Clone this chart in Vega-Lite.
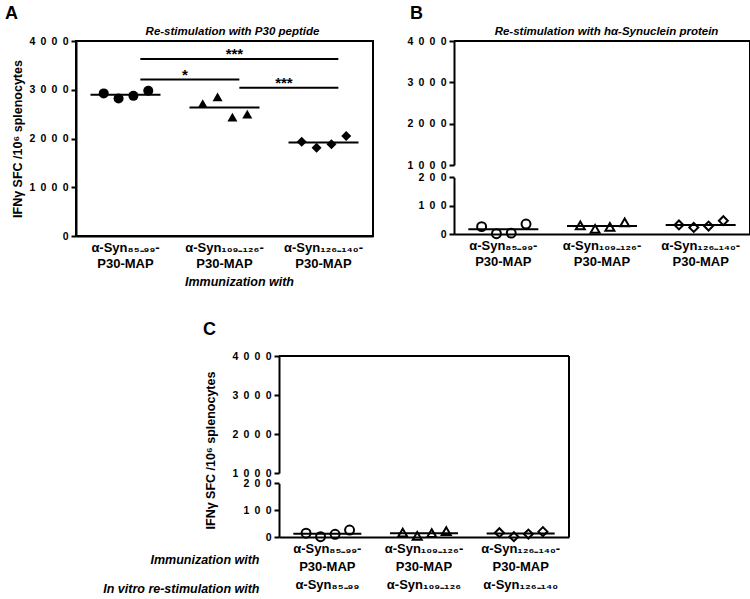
{
  "$schema": "https://vega.github.io/schema/vega-lite/v6.json",
  "background": "white",
  "padding": {"left": 4, "top": 4, "right": 2, "bottom": 2},
  "config": {
    "font": "Liberation Sans",
    "view": {"stroke": null},
    "axis": {"grid": false, "domainColor": "black", "domainWidth": 2, "tickColor": "black", "tickWidth": 2, "labelColor": "black", "titleColor": "black", "labelFontWeight": "bold", "titleFontWeight": "bold", "labelFont": "Liberation Sans", "titleFont": "Liberation Sans"},
    "axisX": {"ticks": false, "labelAngle": 0, "labelFontSize": 13, "labelPadding": 5, "labelLineHeight": 16, "titleFontSize": 12.5, "titleFontStyle": "italic", "titlePadding": 5, "labelExpr": "split(datum.label, '|')"},
    "axisY": {"tickSize": 5, "labelFontSize": 10.5, "labelPadding": 3, "format": "d", "labelExpr": "join(split(datum.label, ''), '\u2002')", "titleFontSize": 12.5, "titlePadding": 8},
    "title": {"color": "black", "font": "Liberation Sans", "fontSize": 18, "fontWeight": "bold", "anchor": "start", "frame": "group"},
    "point": {"opacity": 1, "color": "black"}
  },
  "datasets": {
    "ptsA": [
      {"group": "α-Syn₈₅₋₉₉-|P30-MAP", "rep": 1, "value": 2925},
      {"group": "α-Syn₈₅₋₉₉-|P30-MAP", "rep": 2, "value": 2820},
      {"group": "α-Syn₈₅₋₉₉-|P30-MAP", "rep": 3, "value": 2875},
      {"group": "α-Syn₈₅₋₉₉-|P30-MAP", "rep": 4, "value": 2980},
      {"group": "α-Syn₁₀₉₋₁₂₆-|P30-MAP", "rep": 1, "value": 2715},
      {"group": "α-Syn₁₀₉₋₁₂₆-|P30-MAP", "rep": 2, "value": 2855},
      {"group": "α-Syn₁₀₉₋₁₂₆-|P30-MAP", "rep": 3, "value": 2440},
      {"group": "α-Syn₁₀₉₋₁₂₆-|P30-MAP", "rep": 4, "value": 2500},
      {"group": "α-Syn₁₂₆₋₁₄₀-|P30-MAP", "rep": 1, "value": 1935},
      {"group": "α-Syn₁₂₆₋₁₄₀-|P30-MAP", "rep": 2, "value": 1810},
      {"group": "α-Syn₁₂₆₋₁₄₀-|P30-MAP", "rep": 3, "value": 1880},
      {"group": "α-Syn₁₂₆₋₁₄₀-|P30-MAP", "rep": 4, "value": 2050}
    ],
    "medA": [
      {"group": "α-Syn₈₅₋₉₉-|P30-MAP", "value": 2900},
      {"group": "α-Syn₁₀₉₋₁₂₆-|P30-MAP", "value": 2635},
      {"group": "α-Syn₁₂₆₋₁₄₀-|P30-MAP", "value": 1920}
    ],
    "sigA": [
      {"from": "α-Syn₈₅₋₉₉-|P30-MAP", "to": "α-Syn₁₂₆₋₁₄₀-|P30-MAP", "value": 3630, "label": "***"},
      {"from": "α-Syn₈₅₋₉₉-|P30-MAP", "to": "α-Syn₁₀₉₋₁₂₆-|P30-MAP", "value": 3210, "label": "*"},
      {"from": "α-Syn₁₀₉₋₁₂₆-|P30-MAP", "to": "α-Syn₁₂₆₋₁₄₀-|P30-MAP", "value": 3040, "label": "***"}
    ],
    "ptsB": [
      {"group": "α-Syn₈₅₋₉₉-|P30-MAP", "rep": 1, "value": 26},
      {"group": "α-Syn₈₅₋₉₉-|P30-MAP", "rep": 2, "value": 1},
      {"group": "α-Syn₈₅₋₉₉-|P30-MAP", "rep": 3, "value": 3},
      {"group": "α-Syn₈₅₋₉₉-|P30-MAP", "rep": 4, "value": 35},
      {"group": "α-Syn₁₀₉₋₁₂₆-|P30-MAP", "rep": 1, "value": 30},
      {"group": "α-Syn₁₀₉₋₁₂₆-|P30-MAP", "rep": 2, "value": 18},
      {"group": "α-Syn₁₀₉₋₁₂₆-|P30-MAP", "rep": 3, "value": 25},
      {"group": "α-Syn₁₀₉₋₁₂₆-|P30-MAP", "rep": 4, "value": 41},
      {"group": "α-Syn₁₂₆₋₁₄₀-|P30-MAP", "rep": 1, "value": 32},
      {"group": "α-Syn₁₂₆₋₁₄₀-|P30-MAP", "rep": 2, "value": 23},
      {"group": "α-Syn₁₂₆₋₁₄₀-|P30-MAP", "rep": 3, "value": 28},
      {"group": "α-Syn₁₂₆₋₁₄₀-|P30-MAP", "rep": 4, "value": 47}
    ],
    "medB": [
      {"group": "α-Syn₈₅₋₉₉-|P30-MAP", "value": 17},
      {"group": "α-Syn₁₀₉₋₁₂₆-|P30-MAP", "value": 28},
      {"group": "α-Syn₁₂₆₋₁₄₀-|P30-MAP", "value": 32}
    ],
    "ptsC": [
      {"group": "α-Syn₈₅₋₉₉-|P30-MAP|α-Syn₈₅₋₉₉", "rep": 1, "value": 14},
      {"group": "α-Syn₈₅₋₉₉-|P30-MAP|α-Syn₈₅₋₉₉", "rep": 2, "value": 1},
      {"group": "α-Syn₈₅₋₉₉-|P30-MAP|α-Syn₈₅₋₉₉", "rep": 3, "value": 10},
      {"group": "α-Syn₈₅₋₉₉-|P30-MAP|α-Syn₈₅₋₉₉", "rep": 4, "value": 26},
      {"group": "α-Syn₁₀₉₋₁₂₆-|P30-MAP|α-Syn₁₀₉₋₁₂₆", "rep": 1, "value": 16},
      {"group": "α-Syn₁₀₉₋₁₂₆-|P30-MAP|α-Syn₁₀₉₋₁₂₆", "rep": 2, "value": 4},
      {"group": "α-Syn₁₀₉₋₁₂₆-|P30-MAP|α-Syn₁₀₉₋₁₂₆", "rep": 3, "value": 14},
      {"group": "α-Syn₁₀₉₋₁₂₆-|P30-MAP|α-Syn₁₀₉₋₁₂₆", "rep": 4, "value": 22},
      {"group": "α-Syn₁₂₆₋₁₄₀-|P30-MAP|α-Syn₁₂₆₋₁₄₀", "rep": 1, "value": 16},
      {"group": "α-Syn₁₂₆₋₁₄₀-|P30-MAP|α-Syn₁₂₆₋₁₄₀", "rep": 2, "value": 1},
      {"group": "α-Syn₁₂₆₋₁₄₀-|P30-MAP|α-Syn₁₂₆₋₁₄₀", "rep": 3, "value": 11},
      {"group": "α-Syn₁₂₆₋₁₄₀-|P30-MAP|α-Syn₁₂₆₋₁₄₀", "rep": 4, "value": 20}
    ],
    "medC": [
      {"group": "α-Syn₈₅₋₉₉-|P30-MAP|α-Syn₈₅₋₉₉", "value": 12},
      {"group": "α-Syn₁₀₉₋₁₂₆-|P30-MAP|α-Syn₁₀₉₋₁₂₆", "value": 14},
      {"group": "α-Syn₁₂₆₋₁₄₀-|P30-MAP|α-Syn₁₂₆₋₁₄₀", "value": 13}
    ],
    "frameTop": [{"edge": "top", "value": 4000}],
    "frameSide": [{"edge": "right", "lo": 0, "hi": 4000}],
    "spacer": [{"edge": "none"}]
  },
  "concat": [
    {
      "hconcat": [
        {
          "width": 297,
          "height": 195,
          "view": {"stroke": "black", "strokeWidth": 2},
          "title": {"text": "A", "dx": -71, "offset": 2},
          "data": {"name": "ptsA"},
          "encoding": {
            "y": {"field": "value", "type": "quantitative", "scale": {"domain": [0, 4000], "nice": false}, "axis": {"values": [0, 1000, 2000, 3000, 4000], "title": "IFNγ SFC /10⁶ splenocytes", "titlePadding": 4}},
            "shape": {"field": "group", "type": "nominal", "scale": {"domain": ["α-Syn₈₅₋₉₉-|P30-MAP", "α-Syn₁₀₉₋₁₂₆-|P30-MAP", "α-Syn₁₂₆₋₁₄₀-|P30-MAP"], "range": ["circle", "triangle-up", "diamond"]}, "legend": null}
          },
          "layer": [
            {
              "transform": [{"filter": "datum.rep == 1"}],
              "mark": {"type": "point", "filled": true, "size": 100},
              "encoding": {"x": {"field": "group", "type": "nominal", "bandPosition": 0.28, "scale": {"type": "band", "domain": ["α-Syn₈₅₋₉₉-|P30-MAP", "α-Syn₁₀₉₋₁₂₆-|P30-MAP", "α-Syn₁₂₆₋₁₄₀-|P30-MAP"], "paddingInner": 0, "paddingOuter": 0}, "axis": {"title": "Immunization with", "titleX": 163}}}
            },
            {
              "transform": [{"filter": "datum.rep == 2"}],
              "mark": {"type": "point", "filled": true, "size": 100},
              "encoding": {"x": {"field": "group", "type": "nominal", "bandPosition": 0.43, "axis": null}}
            },
            {
              "transform": [{"filter": "datum.rep == 3"}],
              "mark": {"type": "point", "filled": true, "size": 100},
              "encoding": {"x": {"field": "group", "type": "nominal", "bandPosition": 0.58, "axis": null}}
            },
            {
              "transform": [{"filter": "datum.rep == 4"}],
              "mark": {"type": "point", "filled": true, "size": 100},
              "encoding": {"x": {"field": "group", "type": "nominal", "bandPosition": 0.73, "axis": null}}
            },
            {
              "data": {"name": "medA"},
              "mark": {"type": "tick", "size": 70, "thickness": 2, "color": "black", "opacity": 1},
              "encoding": {
                "x": {"field": "group", "type": "nominal", "axis": {"orient": "top", "labels": false, "ticks": false, "domain": false, "title": "Re-stimulation with P30 peptide", "titleFontSize": 11.5, "titlePadding": 5, "titleX": 156}},
                "shape": null
              }
            },
            {
              "data": {"name": "sigA"},
              "mark": {"type": "rule", "strokeWidth": 2, "color": "black"},
              "encoding": {
                "x": {"field": "from", "type": "nominal", "bandPosition": 0.65, "axis": null},
                "x2": {"field": "to", "bandPosition": 0.65},
                "shape": null
              }
            },
            {
              "data": {"name": "sigA"},
              "transform": [{"filter": "datum.value > 3500"}],
              "mark": {"type": "text", "fontSize": 15, "fontWeight": "bold", "baseline": "alphabetic", "color": "black"},
              "encoding": {
                "x": {"field": "from", "type": "nominal", "bandPosition": 1.6, "axis": null},
                "text": {"field": "label"},
                "shape": null
              }
            },
            {
              "data": {"name": "sigA"},
              "transform": [{"filter": "datum.value < 3500"}],
              "mark": {"type": "text", "fontSize": 15, "fontWeight": "bold", "baseline": "alphabetic", "color": "black"},
              "encoding": {
                "x": {"field": "from", "type": "nominal", "bandPosition": 1.1, "axis": null},
                "text": {"field": "label"},
                "shape": null
              }
            }
          ],
          "resolve": {"axis": {"x": "independent"}}
        },
        {
          "width": 296,
          "height": 193,
          "title": {"text": "B", "dx": -44, "offset": 2},
          "layer": [
            {
              "data": {"name": "frameTop"},
              "mark": {"type": "rule", "strokeWidth": 2, "color": "black"},
              "encoding": {
                "y": {"field": "value", "type": "quantitative", "scale": {"domain": [1000, 4000], "range": [124, 0], "nice": false, "zero": false}, "axis": {"orient": "left", "values": [1000, 2000, 3000, 4000], "title": null}}
              }
            },
            {
              "data": {"name": "ptsB"},
              "transform": [{"filter": "datum.rep == 1"}],
              "mark": {"type": "point", "filled": false, "size": 80, "strokeWidth": 2},
              "encoding": {
                "x": {"field": "group", "type": "nominal", "bandPosition": 0.28, "scale": {"type": "band", "domain": ["α-Syn₈₅₋₉₉-|P30-MAP", "α-Syn₁₀₉₋₁₂₆-|P30-MAP", "α-Syn₁₂₆₋₁₄₀-|P30-MAP"], "paddingInner": 0, "paddingOuter": 0}, "axis": {"title": null}},
                "y": {"field": "value", "type": "quantitative", "scale": {"domain": [0, 200], "range": [193, 136.3], "nice": false, "zero": false}, "axis": {"orient": "left", "values": [0, 100, 200], "title": null}},
                "shape": {"field": "group", "type": "nominal", "scale": {"domain": ["α-Syn₈₅₋₉₉-|P30-MAP", "α-Syn₁₀₉₋₁₂₆-|P30-MAP", "α-Syn₁₂₆₋₁₄₀-|P30-MAP"], "range": ["circle", "triangle-up", "diamond"]}, "legend": null}
              }
            },
            {
              "data": {"name": "ptsB"},
              "transform": [{"filter": "datum.rep == 2"}],
              "mark": {"type": "point", "filled": false, "size": 80, "strokeWidth": 2},
              "encoding": {
                "x": {"field": "group", "type": "nominal", "bandPosition": 0.43, "axis": null},
                "y": {"field": "value", "type": "quantitative", "scale": {"domain": [0, 200], "range": [193, 136.3], "nice": false, "zero": false}, "axis": null},
                "shape": {"field": "group", "type": "nominal", "legend": null}
              }
            },
            {
              "data": {"name": "ptsB"},
              "transform": [{"filter": "datum.rep == 3"}],
              "mark": {"type": "point", "filled": false, "size": 80, "strokeWidth": 2},
              "encoding": {
                "x": {"field": "group", "type": "nominal", "bandPosition": 0.58, "axis": null},
                "y": {"field": "value", "type": "quantitative", "scale": {"domain": [0, 200], "range": [193, 136.3], "nice": false, "zero": false}, "axis": null},
                "shape": {"field": "group", "type": "nominal", "legend": null}
              }
            },
            {
              "data": {"name": "ptsB"},
              "transform": [{"filter": "datum.rep == 4"}],
              "mark": {"type": "point", "filled": false, "size": 80, "strokeWidth": 2},
              "encoding": {
                "x": {"field": "group", "type": "nominal", "bandPosition": 0.73, "axis": null},
                "y": {"field": "value", "type": "quantitative", "scale": {"domain": [0, 200], "range": [193, 136.3], "nice": false, "zero": false}, "axis": null},
                "shape": {"field": "group", "type": "nominal", "legend": null}
              }
            },
            {
              "data": {"name": "medB"},
              "mark": {"type": "tick", "size": 70, "thickness": 2, "color": "black", "opacity": 1},
              "encoding": {
                "x": {"field": "group", "type": "nominal", "axis": {"orient": "top", "labels": false, "ticks": false, "domain": false, "title": "Re-stimulation with hα-Synuclein protein", "titleFontSize": 11.5, "titlePadding": 5, "titleX": 152}},
                "y": {"field": "value", "type": "quantitative", "scale": {"domain": [0, 200], "range": [193, 136.3], "nice": false, "zero": false}, "axis": null}
              }
            },
            {
              "data": {"name": "frameSide"},
              "mark": {"type": "rule", "strokeWidth": 2, "color": "black"},
              "encoding": {
                "x": {"datum": "α-Syn₁₂₆₋₁₄₀-|P30-MAP", "type": "nominal", "bandPosition": 1, "axis": null},
                "y": {"field": "lo", "type": "quantitative", "scale": {"domain": [0, 4000], "nice": false}, "axis": null},
                "y2": {"field": "hi"}
              }
            }
          ],
          "resolve": {"scale": {"y": "independent"}, "axis": {"y": "independent", "x": "independent"}}
        }
      ],
      "spacing": 32
    },
    {
      "hconcat": [
        {
          "width": 26,
          "height": 10,
          "data": {"name": "spacer"},
          "mark": {"type": "point", "opacity": 0}
        },
        {
          "width": 290,
          "height": 181,
          "title": {"text": "C", "dx": -76, "offset": 12},
          "layer": [
            {
              "data": {"name": "frameTop"},
              "mark": {"type": "rule", "strokeWidth": 2, "color": "black"},
              "encoding": {
                "y": {"field": "value", "type": "quantitative", "scale": {"domain": [1000, 4000], "range": [117, 0], "nice": false, "zero": false}, "axis": {"orient": "left", "values": [1000, 2000, 3000, 4000], "title": "IFNγ SFC /10⁶ splenocytes", "titleY": 94, "titlePadding": 14}}
              }
            },
            {
              "data": {"name": "ptsC"},
              "transform": [{"filter": "datum.rep == 1"}],
              "mark": {"type": "point", "filled": false, "size": 80, "strokeWidth": 2},
              "encoding": {
                "x": {"field": "group", "type": "nominal", "bandPosition": 0.28, "scale": {"type": "band", "domain": ["α-Syn₈₅₋₉₉-|P30-MAP|α-Syn₈₅₋₉₉", "α-Syn₁₀₉₋₁₂₆-|P30-MAP|α-Syn₁₀₉₋₁₂₆", "α-Syn₁₂₆₋₁₄₀-|P30-MAP|α-Syn₁₂₆₋₁₄₀"], "paddingInner": 0, "paddingOuter": 0},
                  "axis": {"title": ["Immunization with", "In vitro re-stimulation with"], "titleX": -20, "titleY": 16, "titleAlign": "right", "titleBaseline": "top", "titleLineHeight": 29, "labelLineHeight": 18}},
                "y": {"field": "value", "type": "quantitative", "scale": {"domain": [0, 200], "range": [181, 127.3], "nice": false, "zero": false}, "axis": {"orient": "left", "values": [0, 100, 200], "title": null}},
                "shape": {"field": "group", "type": "nominal", "scale": {"domain": ["α-Syn₈₅₋₉₉-|P30-MAP|α-Syn₈₅₋₉₉", "α-Syn₁₀₉₋₁₂₆-|P30-MAP|α-Syn₁₀₉₋₁₂₆", "α-Syn₁₂₆₋₁₄₀-|P30-MAP|α-Syn₁₂₆₋₁₄₀"], "range": ["circle", "triangle-up", "diamond"]}, "legend": null}
              }
            },
            {
              "data": {"name": "ptsC"},
              "transform": [{"filter": "datum.rep == 2"}],
              "mark": {"type": "point", "filled": false, "size": 80, "strokeWidth": 2},
              "encoding": {
                "x": {"field": "group", "type": "nominal", "bandPosition": 0.43, "axis": null},
                "y": {"field": "value", "type": "quantitative", "scale": {"domain": [0, 200], "range": [181, 127.3], "nice": false, "zero": false}, "axis": null},
                "shape": {"field": "group", "type": "nominal", "legend": null}
              }
            },
            {
              "data": {"name": "ptsC"},
              "transform": [{"filter": "datum.rep == 3"}],
              "mark": {"type": "point", "filled": false, "size": 80, "strokeWidth": 2},
              "encoding": {
                "x": {"field": "group", "type": "nominal", "bandPosition": 0.58, "axis": null},
                "y": {"field": "value", "type": "quantitative", "scale": {"domain": [0, 200], "range": [181, 127.3], "nice": false, "zero": false}, "axis": null},
                "shape": {"field": "group", "type": "nominal", "legend": null}
              }
            },
            {
              "data": {"name": "ptsC"},
              "transform": [{"filter": "datum.rep == 4"}],
              "mark": {"type": "point", "filled": false, "size": 80, "strokeWidth": 2},
              "encoding": {
                "x": {"field": "group", "type": "nominal", "bandPosition": 0.73, "axis": null},
                "y": {"field": "value", "type": "quantitative", "scale": {"domain": [0, 200], "range": [181, 127.3], "nice": false, "zero": false}, "axis": null},
                "shape": {"field": "group", "type": "nominal", "legend": null}
              }
            },
            {
              "data": {"name": "medC"},
              "mark": {"type": "tick", "size": 68, "thickness": 2, "color": "black", "opacity": 1},
              "encoding": {
                "x": {"field": "group", "type": "nominal", "axis": null},
                "y": {"field": "value", "type": "quantitative", "scale": {"domain": [0, 200], "range": [181, 127.3], "nice": false, "zero": false}, "axis": null}
              }
            },
            {
              "data": {"name": "frameSide"},
              "mark": {"type": "rule", "strokeWidth": 2, "color": "black"},
              "encoding": {
                "x": {"datum": "α-Syn₁₂₆₋₁₄₀-|P30-MAP|α-Syn₁₂₆₋₁₄₀", "type": "nominal", "bandPosition": 1, "axis": null},
                "y": {"field": "lo", "type": "quantitative", "scale": {"domain": [0, 4000], "nice": false}, "axis": null},
                "y2": {"field": "hi"}
              }
            }
          ],
          "resolve": {"scale": {"y": "independent"}, "axis": {"y": "independent", "x": "independent"}}
        }
      ],
      "spacing": 0
    }
  ],
  "columns": 1,
  "align": "none",
  "spacing": 32
}
